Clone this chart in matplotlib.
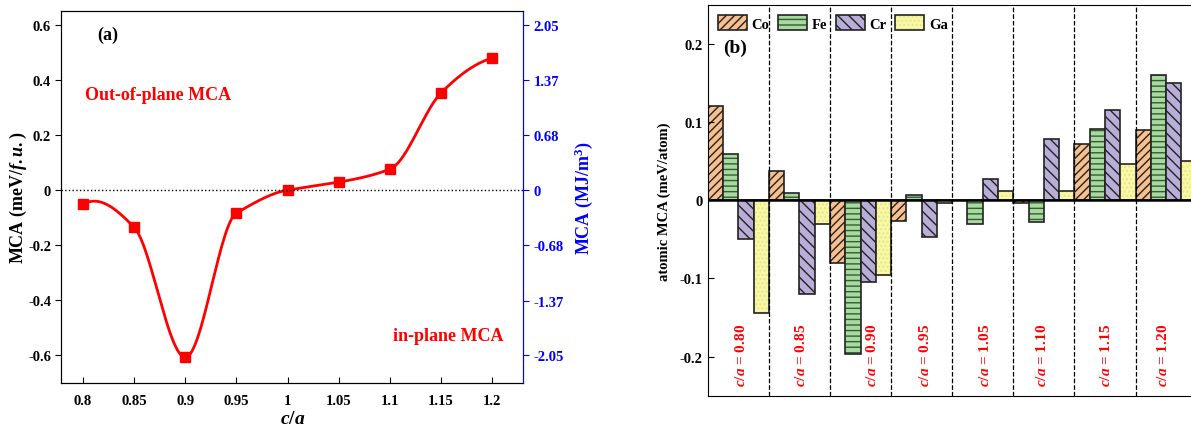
import numpy as np
import matplotlib
matplotlib.use('Agg')
import matplotlib.pyplot as plt
from matplotlib.patches import Patch

plt.rcParams['font.family'] = 'Liberation Serif'
plt.rcParams['font.weight'] = 'bold'
plt.rcParams['axes.labelweight'] = 'bold'
plt.rcParams['mathtext.fontset'] = 'custom'
plt.rcParams['mathtext.rm'] = 'Liberation Serif:bold'
plt.rcParams['mathtext.it'] = 'Liberation Serif:bold:italic'
plt.rcParams['mathtext.bf'] = 'Liberation Serif:bold'

# panel (a) data
ca = [0.80, 0.85, 0.90, 0.95, 1.00, 1.05, 1.10, 1.15, 1.20]
mca = [-0.052, -0.135, -0.607, -0.083, 0.0, 0.029, 0.076, 0.353, 0.479]

# panel (b) data
groups = ['0.80', '0.85', '0.90', '0.95', '1.05', '1.10', '1.15', '1.20']
co = [0.121, 0.037, -0.080, -0.026, 0.0, -0.003, 0.072, 0.090]
fe = [0.059, 0.009, -0.197, 0.007, -0.030, -0.028, 0.091, 0.160]
cr = [-0.050, -0.120, -0.104, -0.047, 0.027, 0.079, 0.115, 0.150]
ga = [-0.144, -0.030, -0.096, -0.004, 0.012, 0.012, 0.046, 0.050]
label_pos = [0.55, 0.53, 0.68, 0.56, 0.53, 0.47, 0.52, 0.45]


def akima(x, y, xs):
    # Akima cubic, used only to draw the smooth line through the points
    x = np.asarray(x, float)
    y = np.asarray(y, float)
    n = len(x)
    h = np.diff(x)
    d = np.diff(y) / h
    dd = np.empty(n + 3)
    dd[2:-2] = d
    dd[1] = 2 * dd[2] - dd[3]
    dd[0] = 2 * dd[1] - dd[2]
    dd[-2] = 2 * dd[-3] - dd[-4]
    dd[-1] = 2 * dd[-2] - dd[-3]
    m = np.zeros(n)
    for i in range(n):
        w1 = abs(dd[i + 3] - dd[i + 2])
        w2 = abs(dd[i + 1] - dd[i])
        if w1 + w2 == 0:
            m[i] = 0.5 * (dd[i + 1] + dd[i + 2])
        else:
            m[i] = (w1 * dd[i + 1] + w2 * dd[i + 2]) / (w1 + w2)
    k = np.clip(np.searchsorted(x, xs) - 1, 0, n - 2)
    t = (xs - x[k]) / h[k]
    h00 = 2 * t**3 - 3 * t**2 + 1
    h10 = t**3 - 2 * t**2 + t
    h01 = -2 * t**3 + 3 * t**2
    h11 = t**3 - t**2
    return h00 * y[k] + h10 * h[k] * m[k] + h01 * y[k + 1] + h11 * h[k] * m[k + 1]


fig = plt.figure(figsize=(11.91, 4.27), dpi=100)

# ---------------- panel (a)
ax1 = fig.add_axes([0.0516, 0.1007, 0.3875, 0.8712])
xs = np.linspace(ca[0], ca[-1], 400)
ax1.plot(xs, akima(ca, mca, xs), color='red', lw=2)
ax1.plot(ca, mca, 's', color='red', ms=7)
ax1.axhline(0, color='black', ls=':', lw=1)
ax1.set_xlim(0.779, 1.23)
ax1.set_ylim(-0.70, 0.65)
ax1.set_xticks(ca)
ax1.set_xticklabels(['0.8', '0.85', '0.9', '0.95', '1', '1.05', '1.1', '1.15', '1.2'])
ax1.set_yticks([-0.6, -0.4, -0.2, 0, 0.2, 0.4, 0.6])
ax1.set_yticklabels(['-0.6', '-0.4', '-0.2', '0', '0.2', '0.4', '0.6'])
ax1.tick_params(axis='x', direction='in', length=4, labelsize=10.5, pad=8)
ax1.tick_params(axis='y', direction='out', length=4, labelsize=10.5)
ax1.set_xlabel('$c/a$', fontsize=14, labelpad=2)
ax1.set_ylabel('MCA (meV/$\\mathit{f.u.}$)', fontsize=13, labelpad=-1)
ax1.text(0.814, 0.55, '(a)', fontsize=13)
ax1.text(0.802, 0.33, 'Out-of-plane MCA', color='red', fontsize=13)
ax1.text(1.103, -0.545, 'in-plane MCA', color='red', fontsize=13)

ax1r = ax1.twinx()
scale = 2.05 / 0.6
ax1r.set_ylim(-0.70 * scale, 0.65 * scale)
ax1r.set_yticks([-2.05, -1.37, -0.68, 0, 0.68, 1.37, 2.05])
ax1r.set_yticklabels(['-2.05', '-1.37', '-0.68', '0', '0.68', '1.37', '2.05'])
ax1r.tick_params(axis='y', colors='blue', direction='out', length=4, labelsize=10.5)
ax1r.spines['right'].set_color('blue')
ax1r.set_ylabel('MCA (MJ/m$^3$)', color='blue', fontsize=13, labelpad=6)

# ---------------- panel (b)
ax2 = fig.add_axes([0.5942, 0.071, 0.4106, 0.915])
idx = np.arange(len(groups))
w = 0.25
series = [
    ('Co', co, '#F7C08E', '////', '#222222'),
    ('Fe', fe, '#A9D8A0', '---', '#2f5f2f'),
    ('Cr', cr, '#B8AED8', '\\\\\\', '#222222'),
    ('Ga', ga, '#F8F8A6', '....', '#e6e68a'),
]
handles = []
names = []
for j, (name, vals, fc, hatch, hc) in enumerate(series):
    pos = idx + j * w
    ax2.bar(pos, vals, w, align='edge', color=fc, edgecolor=hc, hatch=hatch, lw=0)
    ax2.bar(pos, vals, w, align='edge', fill=False, edgecolor='#222222', lw=1.2)
    handles.append((Patch(facecolor=fc, edgecolor=hc, hatch=hatch, lw=0),
                    Patch(fill=False, edgecolor='#222222', lw=1.2)))
    names.append(name)

for b in range(1, len(groups) + 1):
    ax2.axvline(b, color='black', ls='--', lw=0.9)
ax2.axhline(0, color='black', lw=1.8)

for i, g in enumerate(groups):
    ax2.text(i + label_pos[i], -0.238, '$c/a$ = ' + g, rotation=90, color='red',
             fontsize=11, ha='center', va='bottom')

ax2.set_xlim(0, len(groups))
ax2.set_ylim(-0.25, 0.25)
ax2.set_xticks([])
ax2.set_yticks([-0.2, -0.1, 0, 0.1, 0.2])
ax2.set_yticklabels(['-0.2', '-0.1', '0', '0.1', '0.2'])
ax2.tick_params(axis='y', direction='in', length=4, labelsize=10.5)
ax2.set_ylabel('atomic MCA (meV/atom)', fontsize=10.5, labelpad=6)
ax2.text(0.25, 0.19, '(b)', fontsize=14)
ax2.legend(handles, names, loc='upper left', ncol=4, frameon=False, fontsize=10.5,
           handlelength=2.0, handleheight=1.2, columnspacing=0.6,
           handletextpad=0.3, borderaxespad=0.3, bbox_to_anchor=(0.0, 1.0))

fig.savefig('out.png', dpi=100)
